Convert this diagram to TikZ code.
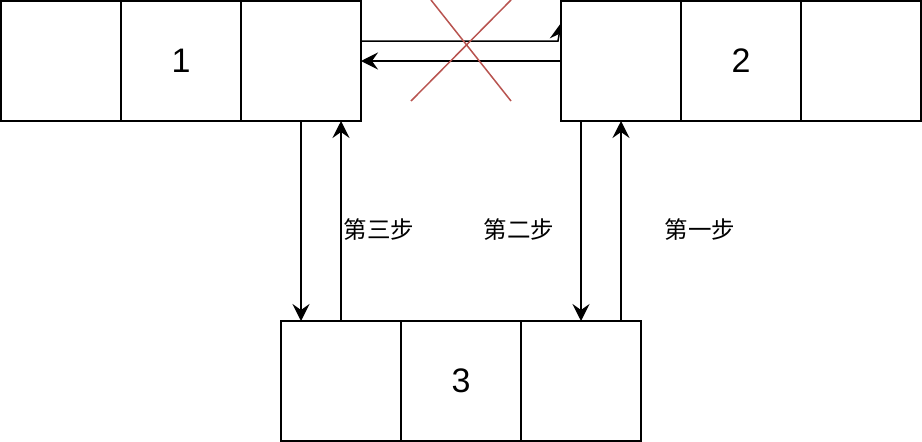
\documentclass[tikz,border=0pt]{standalone}
\usepackage{fontspec}
\setmainfont{Liberation Sans}
\newfontfamily\cjk{Noto Sans CJK SC}
\usetikzlibrary{arrows.meta}
\begin{document}
\begin{tikzpicture}[x=1pt,y=-1pt,
  cell/.style={draw=black,line width=1.5pt,fill=white,minimum width=120pt,minimum height=120pt,inner sep=0pt,outer sep=0pt,anchor=north west,font=\fontsize{34}{34}\selectfont},
  conn/.style={line width=1.5pt,-{Stealth[length=17pt,width=17pt,inset=6pt]}},
  xline/.style={draw={rgb,255:red,184;green,84;blue,80},line width=1.5pt},
  steplabel/.style={font=\cjk\fontsize{23.5}{23.5}\selectfont,inner sep=0pt}]
\useasboundingbox (0,0) rectangle (922,442);
% arrow 1 -> 2 (partly hidden behind box 2)
\coordinate (t1) at (361,41);
\coordinate (t2) at (558,41);
\coordinate (t3) at (561,23);
\draw[conn] (t1) -- (t2) -- (t3);
% box 1
\node[cell] (a1) at (1,1) {};
\node[cell] (a2) at (121,1) {1};
\node[cell] (a3) at (241,1) {};
% box 2
\node[cell] (b1) at (561,1) {};
\node[cell] (b2) at (681,1) {2};
\node[cell] (b3) at (801,1) {};
% box 3
\node[cell] (c1) at (281,321) {};
\node[cell] (c2) at (401,321) {3};
\node[cell] (c3) at (521,321) {};
% back arrow 2 -> 1
\draw[conn] ([yshift=-60pt]b1.north west) -- ([yshift=-60pt]a3.north east);
% red cross
\coordinate (x1) at (431,0);
\coordinate (x2) at (511,101);
\coordinate (x3) at (511,0);
\coordinate (x4) at (411,101);
\draw[xline] (x1) -- (x2);
\draw[xline] (x3) -- (x4);
% vertical arrows
\draw[conn] ([xshift=60pt]a3.south west) -- ([xshift=20pt]c1.north west);
\draw[conn] ([xshift=60pt]c1.north west) -- ([xshift=100pt]a3.south west);
\draw[conn] ([xshift=20pt]b1.south west) -- ([xshift=60pt]c3.north west);
\draw[conn] ([xshift=100pt]c3.north west) -- ([xshift=60pt]b1.south west);
% labels
\node[steplabel] (s3) at (379,230) {第三步};
\node[steplabel] (s2) at (519,230) {第二步};
\node[steplabel] (s1) at (700,230) {第一步};
\end{tikzpicture}
\end{document}
